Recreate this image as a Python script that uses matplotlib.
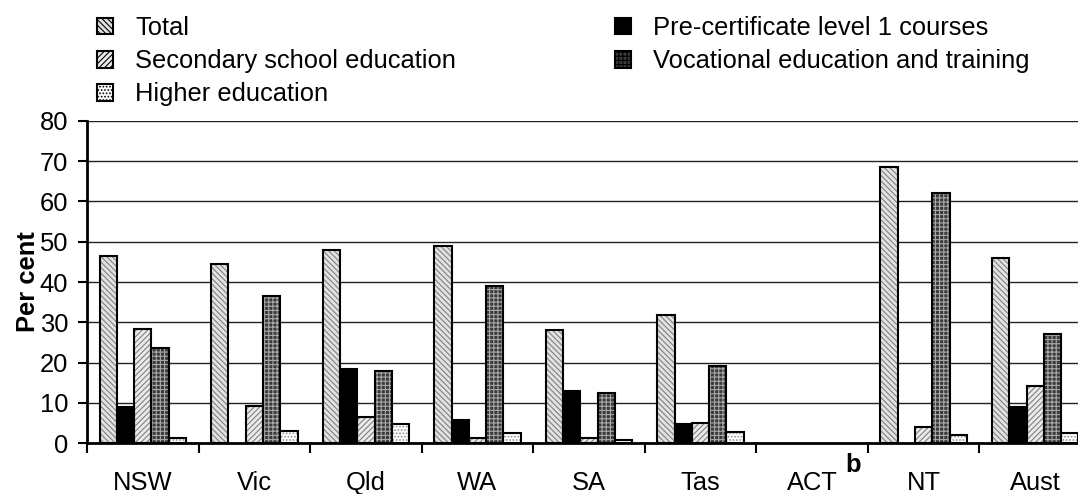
import matplotlib
matplotlib.use("Agg")
import matplotlib.pyplot as plt
from matplotlib.patches import Patch
import numpy as np

plt.rcParams['font.family'] = ['Liberation Sans', 'DejaVu Sans']
plt.rcParams['hatch.linewidth'] = 0.8

categories = ["NSW", "Vic", "Qld", "WA", "SA", "Tas", "ACT", "NT", "Aust"]
series_names = ["Total", "Pre-certificate level 1 courses", "Secondary school education",
                "Vocational education and training", "Higher education"]
total = [46.5, 44.5, 47.9, 48.9, 28.1, 31.8, 0, 68.6, 46.0]
pre_cert = [9.0, 0, 18.4, 5.7, 13.0, 4.7, 0, 0, 9.0]
secondary = [28.3, 9.3, 6.5, 1.2, 1.3, 4.9, 0, 3.9, 14.2]
vet = [23.7, 36.5, 17.9, 39.1, 12.3, 19.1, 0, 62.2, 27.2]
higher = [1.3, 3.0, 4.8, 2.5, 0.8, 2.8, 0, 2.0, 2.4]
yticks = [0, 10, 20, 30, 40, 50, 60, 70, 80]

series = [total, pre_cert, secondary, vet, higher]
# face colour, hatch, hatch colour for each series
styles = [
    ("#e2e2e2", "\\\\\\\\\\\\", "#808080"),
    ("#000000", "", "#000000"),
    ("#ebebeb", "//////", "#808080"),
    ("#3a3a3a", "++++", "#a8a8a8"),
    ("#ffffff", ".....", "#909090"),
]

FS = 18.4
W, H = 1078, 494
fig = plt.figure(figsize=(W / 100, H / 100), dpi=100)
x0, x1, y0, y1 = 87, 1091, 443, 121
ax = fig.add_axes([x0 / W, (H - y0) / H, (x1 - x0) / W, (y0 - y1) / H])

n = len(categories)
centers = np.arange(n) + 0.5
bw = 0.155
for k, (vals, (fc, hatch, hc)) in enumerate(zip(series, styles)):
    xs = centers + (k - 2) * bw
    vals = np.array(vals, dtype=float)
    mask = vals > 0
    ax.bar(xs[mask], vals[mask], width=bw, color=fc, hatch=hatch, edgecolor=hc,
           linewidth=0, zorder=2)
    ax.bar(xs[mask], vals[mask], width=bw, fill=False, edgecolor="black",
           linewidth=1.5, zorder=3)

ax.set_xlim(0, n)
ax.set_ylim(0, 80)
ax.set_yticks(yticks)
ax.set_yticklabels([str(v) for v in yticks], fontsize=FS)
ax.yaxis.grid(True, color="#222222", linewidth=1.0, zorder=0)
ax.set_axisbelow(True)

ax.set_xticks(np.arange(n + 1))
ax.set_xticklabels([])
ax.set_xticks(centers, minor=True)
ax.set_xticklabels(categories, minor=True, fontsize=FS)
ax.tick_params(axis="x", which="major", direction="out", length=7.5, width=1.5)
ax.tick_params(axis="x", which="minor", length=0, pad=20)
ax.tick_params(axis="y", direction="out", length=6.5, width=1.5, pad=7)

for s in ("top", "right"):
    ax.spines[s].set_visible(False)
for s in ("left", "bottom"):
    ax.spines[s].set_linewidth(2.0)

ax.set_ylabel("Per cent", fontsize=FS, fontweight="bold", labelpad=0)

fig.text(853 / W, (H - 465) / H, "b", fontsize=FS, fontweight="bold",
         ha="center", va="center")

handles = []
for name, (fc, hatch, hc) in zip(series_names, styles):
    handles.append(Patch(facecolor=fc, hatch=hatch, edgecolor="black", linewidth=1.5, label=name))

order_left = [0, 2, 4]
order_right = [1, 3]
common = dict(frameon=False, fontsize=FS, handlelength=0.64, handleheight=0.64,
              handletextpad=0.85, labelspacing=0.36, borderpad=0, borderaxespad=0,
              loc="upper left")
fig.legend([handles[i] for i in order_left], [series_names[i] for i in order_left],
           bbox_to_anchor=(97 / W, 1 - 16 / H), **common)
fig.legend([handles[i] for i in order_right], [series_names[i] for i in order_right],
           bbox_to_anchor=(615 / W, 1 - 16 / H), **common)

fig.savefig("out.png", dpi=100)
